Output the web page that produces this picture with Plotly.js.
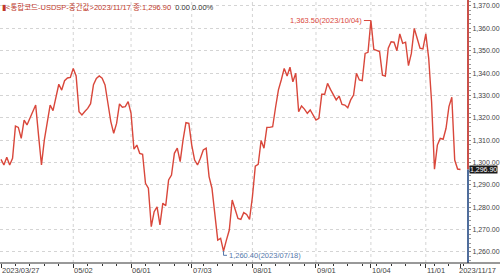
<!DOCTYPE html>
<html>
<head>
<meta charset="utf-8">
<script src="https://cdn.plot.ly/plotly-3.0.1.min.js"></script>
<style>html,body{margin:0;padding:0;background:#fff;}#chart{width:500px;height:275px;}</style>
</head>
<body>
<div id="chart"></div>
<script>
// Trading-day index of each tick label
const tickIdx = [0, 25, 45, 66, 87, 109, 128, 147, 159];
const tickText = ['2023/03/27', '05/02', '06/01', '07/03', '08/01', '09/01', '10/04', '11/01', '2023/11/17'];
const maxDate = '2023/10/04';
const minDate = '2023/07/18';
const lastDate = '2023/11/17';
// USD/KRW close, one value per trading day (2023/03/27 .. 2023/11/17)
const rate = [
  1301.4, 1298.9, 1302.3, 1298.9, 1301.9, 1316.3, 1315.7, 1310.8, 1319.0, 1316.8,
  1319.8, 1322.7, 1325.7, 1312.0, 1298.9, 1310.1, 1318.0, 1325.7, 1323.2, 1329.0,
  1335.0, 1332.4, 1336.6, 1337.8, 1338.1, 1342.1, 1338.7, 1322.7, 1321.3, 1322.8,
  1324.2, 1326.3, 1334.8, 1337.6, 1338.7, 1337.7, 1334.7, 1326.5, 1318.3, 1313.1,
  1317.5, 1326.2, 1324.7, 1325.0, 1327.2, 1322.0, 1306.0, 1307.8, 1304.1, 1303.7,
  1290.7, 1288.5, 1271.3, 1278.0, 1280.2, 1272.1, 1281.8, 1280.7, 1292.2, 1294.4,
  1304.1, 1306.4, 1300.4, 1310.1, 1317.8, 1317.5, 1307.8, 1301.1, 1298.9, 1301.9,
  1305.6, 1306.4, 1293.7, 1288.5, 1275.8, 1265.3, 1266.1, 1260.4, 1265.3, 1269.8,
  1283.2, 1279.5, 1275.0, 1274.6, 1277.6, 1276.8, 1274.6, 1284.7, 1298.4, 1299.2,
  1309.8, 1306.4, 1315.7, 1315.7, 1316.0, 1324.6, 1332.5, 1337.0, 1342.1, 1338.7,
  1342.6, 1336.1, 1339.9, 1322.7, 1325.3, 1323.9, 1322.0, 1323.5, 1321.3, 1319.0,
  1319.8, 1330.5, 1330.5, 1335.4, 1332.7, 1330.2, 1328.0, 1329.7, 1326.0, 1325.7,
  1324.5, 1328.0, 1330.2, 1339.9, 1336.9, 1336.6, 1348.8, 1349.3, 1363.5, 1350.6,
  1350.0, 1349.6, 1339.1, 1338.7, 1351.1, 1354.0, 1353.8, 1350.0, 1357.5, 1353.3,
  1353.8, 1343.3, 1348.8, 1360.0, 1355.6, 1351.1, 1350.8, 1357.5, 1346.6, 1327.1,
  1297.0, 1307.8, 1310.8, 1310.4, 1315.3, 1325.0, 1329.2, 1301.1, 1297.1, 1296.9
];
const dayIdx = rate.map((_, i) => i);

const fmt = v => v.toLocaleString('en-US', {minimumFractionDigits: 2, maximumFractionDigits: 2});
const maxV = Math.max(...rate), minV = Math.min(...rate);
const maxI = rate.indexOf(maxV), minI = rate.indexOf(minV);
const lastV = rate[rate.length - 1];

const Y0 = 1255.06, Y1 = 1372.68;
const RED = '#d9473b', BLUE = '#5577aa';
const FONT = '"Liberation Sans", Arial, "Noto Sans CJK KR", sans-serif';

const shapes = [];
// vertical dotted grid at inner ticks
tickIdx.slice(1, -1).forEach(t => shapes.push({
  type: 'line', xref: 'x', yref: 'paper', x0: t, x1: t, y0: 0, y1: 1,
  line: {color: '#d4d4d4', width: 1, dash: 'dot'}, layer: 'below'
}));
// right axis line: red above last value, blue below
shapes.push({type: 'line', xref: 'paper', yref: 'y', x0: 1, x1: 1, y0: lastV, y1: Y1, line: {color: '#c9504a', width: 2}});
shapes.push({type: 'line', xref: 'paper', yref: 'y', x0: 1, x1: 1, y0: Y0, y1: lastV, line: {color: '#4f6d9c', width: 2}});
// bottom axis line across the full width
shapes.push({type: 'line', xref: 'paper', yref: 'paper', x0: 0, x1: 1.07, y0: 0, y1: 0, line: {color: '#333', width: 1}});
// min marker connector
shapes.push({type: 'line', xref: 'x', yref: 'y', x0: minI, x1: minI, y0: minV, y1: minV - 1.9, line: {color: BLUE, width: 1}});
shapes.push({type: 'line', xref: 'x', yref: 'y', x0: minI, x1: minI + 1.2, y0: minV - 1.9, y1: minV - 1.9, line: {color: BLUE, width: 1}});

const annotations = [];
tickText.forEach((t, k) => {
  const last = (k === tickText.length - 1);
  annotations.push({
    x: last ? 1 : tickIdx[k], xref: last ? 'paper' : 'x', y: 0, yref: 'paper', yanchor: 'top', yshift: -1,
    xanchor: last ? 'right' : 'left', xshift: last ? 30 : -1, text: t, showarrow: false,
    font: {family: FONT, size: 7.5, color: '#444'}
  });
});
annotations.push({
  x: 0, xref: 'paper', y: 1, yref: 'paper', xanchor: 'left', yanchor: 'top', xshift: 0, yshift: 0,
  showarrow: false, align: 'left',
  text: '<span style="color:#c0392b">▮<통합코드-USDSP-중간값>' + lastDate + ' 종:' + fmt(lastV) + '</span>  <span style="color:#333">0.00 0.00%</span>',
  font: {family: FONT, size: 7.5, color: '#c0392b'}
});
annotations.push({
  x: maxI, xref: 'x', y: maxV, yref: 'y', showarrow: true, arrowhead: 0, arrowwidth: 1, arrowcolor: RED,
  ax: -7, ay: 0, xanchor: 'right', text: fmt(maxV) + '(' + maxDate + ')',
  font: {family: FONT, size: 7.5, color: RED}
});
annotations.push({
  x: minI + 1.2, xref: 'x', y: minV - 1.9, yref: 'y', showarrow: false, xanchor: 'left', xshift: 0,
  text: fmt(minV) + '(' + minDate + ')', font: {family: FONT, size: 7.5, color: BLUE}
});
annotations.push({
  x: 1, xref: 'paper', y: lastV, yref: 'y', xanchor: 'left', xshift: 1, showarrow: false,
  text: fmt(lastV), bgcolor: '#1a1a1a', borderpad: 0,
  font: {family: FONT, size: 7, color: '#ffffff'}
});

const data = [{
  x: dayIdx, y: rate, type: 'scatter', mode: 'lines',
  line: {color: RED, width: 1.4}, hoverinfo: 'skip'
}];

const layout = {
  width: 500, height: 275,
  margin: {l: 0, r: 32, t: 0, b: 12, pad: 0},
  paper_bgcolor: '#ffffff', plot_bgcolor: '#ffffff',
  showlegend: false,
  xaxis: {
    range: [-0.346, 161.6], tickmode: 'array', tickvals: tickIdx, showticklabels: false,
    ticks: 'outside', ticklen: 4, tickcolor: '#333', showgrid: false, zeroline: false,
    showline: false, fixedrange: true,
    minor: {ticks: 'outside', ticklen: 2, tickcolor: '#333', tickmode: 'linear', tick0: 0, dtick: 5, showgrid: false}
  },
  yaxis: {
    side: 'right', range: [Y0, Y1], tick0: 1260, dtick: 10, tickformat: ',.2f',
    showgrid: true, gridcolor: '#d4d4d4', griddash: 'dot', gridwidth: 1,
    ticks: 'outside', ticklen: 2, tickcolor: '#888', zeroline: false, showline: false,
    ticklabelstandoff: 0,
    tickfont: {family: FONT, size: 7, color: '#444'}, fixedrange: true,
    minor: {ticks: 'outside', ticklen: 1.5, tickcolor: '#999', dtick: 2, showgrid: false}
  },
  shapes: shapes,
  annotations: annotations
};

Plotly.newPlot('chart', data, layout, {displayModeBar: false, staticPlot: true});
</script>
</body>
</html>
